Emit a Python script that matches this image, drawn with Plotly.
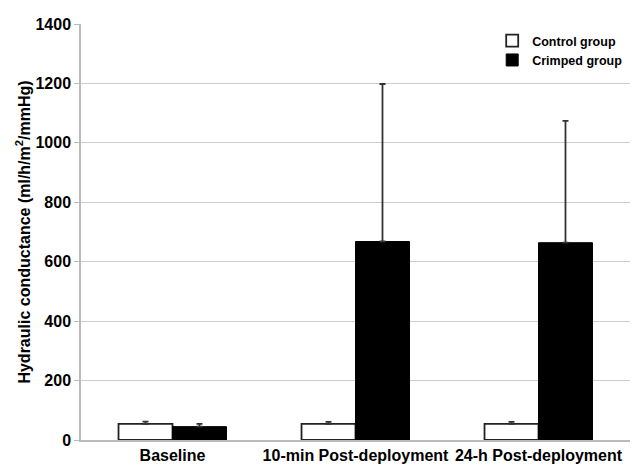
import plotly.graph_objects as go

categories = ["Baseline", "10-min Post-deployment", "24-h Post-deployment"]
control_values = [54, 54, 54]
control_errors = [8, 7, 7]
crimped_values = [45, 668, 664]
crimped_errors = [9, 530, 410]
y_ticks = [0, 200, 400, 600, 800, 1000, 1200, 1400]

FONT = "Arial, Liberation Sans, sans-serif"

fig = go.Figure()
fig.add_trace(go.Bar(
    name="Control group", x=categories, y=control_values,
    marker=dict(color="white", line=dict(color="#222222", width=1.8)),
    error_y=dict(type="data", array=control_errors, arrayminus=[0]*3, symmetric=False,
                 color="#333333", thickness=1.8, width=3),
))
fig.add_trace(go.Bar(
    name="Crimped group", x=categories, y=crimped_values,
    marker=dict(color="black", line=dict(color="black", width=1)),
    error_y=dict(type="data", array=crimped_errors, arrayminus=[0]*3, symmetric=False,
                 color="#333333", thickness=1.8, width=3),
))

# page body has an 8px margin, so the figure is sized 630x459
fig.update_layout(
    width=630, height=459,
    margin=dict(l=73, r=8, t=16, b=27, autoexpand=False),
    paper_bgcolor="white", plot_bgcolor="white",
    barmode="group", bargap=0.41, bargroupgap=0,
    font=dict(family=FONT, size=15, color="black", weight="bold"),
    showlegend=True,
    legend=dict(x=0.749, xanchor="left", y=0.995, yanchor="top",
                font=dict(family=FONT, size=12.5, color="black", weight="bold"),
                bgcolor="rgba(0,0,0,0)", itemwidth=30, tracegroupgap=2),
    xaxis=dict(type="category", showline=True, linecolor="#bbbbbb", linewidth=1.5,
               ticks="", showgrid=False, automargin=False,
               tickfont=dict(family=FONT, size=16, color="black", weight="bold")),
    yaxis=dict(range=[0, 1400], tickvals=y_ticks, showgrid=True, gridcolor="#cccccc",
               gridwidth=1, showline=True, linecolor="#bbbbbb", linewidth=1.5,
               ticks="outside", ticklen=5, tickcolor="#bbbbbb", zeroline=False,
               automargin=False,
               tickfont=dict(family=FONT, size=16, color="black", weight="bold"),
               title=dict(text="Hydraulic conductance (ml/h/m<sup>2</sup>/mmHg)",
                          font=dict(family=FONT, size=16, color="black", weight="bold"),
                          standoff=1)),
)

fig.write_html("out.html")
